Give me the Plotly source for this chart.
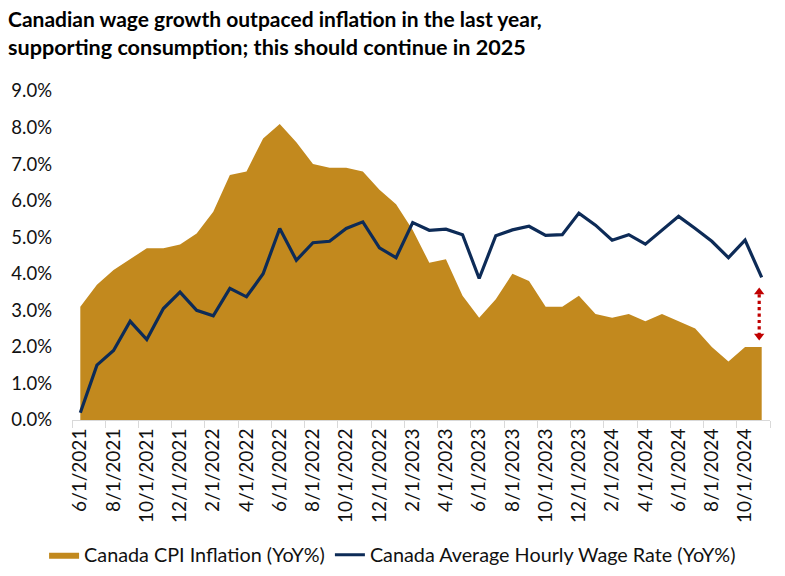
import plotly.graph_objects as go

months = [
    "6/1/2021", "7/1/2021", "8/1/2021", "9/1/2021", "10/1/2021", "11/1/2021", "12/1/2021",
    "1/1/2022", "2/1/2022", "3/1/2022", "4/1/2022", "5/1/2022", "6/1/2022", "7/1/2022",
    "8/1/2022", "9/1/2022", "10/1/2022", "11/1/2022", "12/1/2022",
    "1/1/2023", "2/1/2023", "3/1/2023", "4/1/2023", "5/1/2023", "6/1/2023", "7/1/2023",
    "8/1/2023", "9/1/2023", "10/1/2023", "11/1/2023", "12/1/2023",
    "1/1/2024", "2/1/2024", "3/1/2024", "4/1/2024", "5/1/2024", "6/1/2024", "7/1/2024",
    "8/1/2024", "9/1/2024", "10/1/2024", "11/1/2024",
]

cpi = [
    3.1, 3.7, 4.1, 4.4, 4.7, 4.7, 4.8,
    5.1, 5.7, 6.7, 6.8, 7.7, 8.1, 7.6,
    7.0, 6.9, 6.9, 6.8, 6.3,
    5.9, 5.2, 4.3, 4.4, 3.4, 2.8, 3.3,
    4.0, 3.8, 3.1, 3.1, 3.4,
    2.9, 2.8, 2.9, 2.7, 2.9, 2.7, 2.5,
    2.0, 1.6, 2.0, 2.0,
]

wages = [
    0.2, 1.5, 1.9, 2.7, 2.2, 3.05, 3.5,
    3.0, 2.85, 3.6, 3.37, 4.0, 5.24, 4.37,
    4.85, 4.89, 5.24, 5.42, 4.71,
    4.44, 5.40, 5.19, 5.22, 5.07, 3.87, 5.04,
    5.2, 5.3, 5.05, 5.07, 5.66,
    5.33, 4.92, 5.07, 4.81, 5.19, 5.57, 5.24,
    4.89, 4.44, 4.92, 3.9,
]

y_ticks = [0, 1, 2, 3, 4, 5, 6, 7, 8, 9]
y_tick_labels = ["0.0%", "1.0%", "2.0%", "3.0%", "4.0%", "5.0%", "6.0%", "7.0%", "8.0%", "9.0%"]

gap_arrow_pos = 40.85
gap_arrow_y = [2.3, 3.5]

title_lines = [
    "Canadian wage growth outpaced inflation in the last year,",
    "supporting consumption; this should continue in 2025",
]

GOLD = "#C2891E"
NAVY = "#0D2B57"
RED = "#C00000"
FONT = "Lato"
TXT = "#111111"

fig = go.Figure()

fig.add_trace(go.Scatter(
    x=months, y=cpi, name="Canada CPI Inflation (YoY%)",
    mode="lines", line=dict(width=0, color=GOLD),
    fill="tozeroy", fillcolor=GOLD,
))

fig.add_trace(go.Scatter(
    x=months, y=wages, name="Canada Average Hourly Wage Rate (YoY%)",
    mode="lines", line=dict(width=3.2, color=NAVY),
))

# dotted double-headed arrow (gap indicator), on an overlaying numeric axis
fig.add_trace(go.Scatter(
    xaxis="x2", x=[gap_arrow_pos, gap_arrow_pos], y=gap_arrow_y,
    mode="lines+markers", showlegend=False, hoverinfo="skip",
    line=dict(color=RED, width=3.2, dash="dot"),
    marker=dict(symbol=["triangle-down", "triangle-up"], size=9, color=RED),
))

fig.update_layout(
    width=785, height=576,
    margin=dict(l=72, r=15, t=91, b=156, autoexpand=False),
    paper_bgcolor="white", plot_bgcolor="white",
    font=dict(family=FONT, color=TXT),
    showlegend=True,
    legend=dict(
        orientation="h", x=-0.04, xanchor="left", y=-0.41, yanchor="middle",
        font=dict(size=19.8, family=FONT, color=TXT),
        itemwidth=30, tracegroupgap=0,
    ),
    xaxis=dict(
        type="category",
        range=[-0.5, 41.5],
        tickmode="linear", tick0=0, dtick=2,
        tickson="boundaries",
        ticks="outside", ticklen=7, tickcolor="#D9D9D9", tickwidth=1,
        showline=True, linecolor="#D9D9D9", linewidth=1,
        showgrid=False, zeroline=False, automargin=False,
        tickangle=-90,
        tickfont=dict(size=19, family=FONT, color=TXT),
    ),
    xaxis2=dict(
        overlaying="x", range=[-0.5, 41.5], visible=False,
    ),
    yaxis=dict(
        range=[0, 9], tickmode="array", tickvals=y_ticks, ticktext=y_tick_labels,
        showgrid=False, zeroline=False, showline=False, ticks="",
        ticklabelstandoff=19, automargin=False,
        tickfont=dict(size=18.5, family=FONT, color=TXT),
    ),
)

title_y_px = [18, 47]
title_sizes = [21, 21.6]
for line, ypx, sz in zip(title_lines, title_y_px, title_sizes):
    fig.add_annotation(
        text="<b>" + line + "</b>", xref="paper", yref="paper",
        x=(6 - 72) / 698, xanchor="left",
        y=(576 - 156 - ypx) / 329, yanchor="middle",
        showarrow=False,
        font=dict(size=sz, family=FONT, color="#000000"),
    )

fig.write_html("out.html")
